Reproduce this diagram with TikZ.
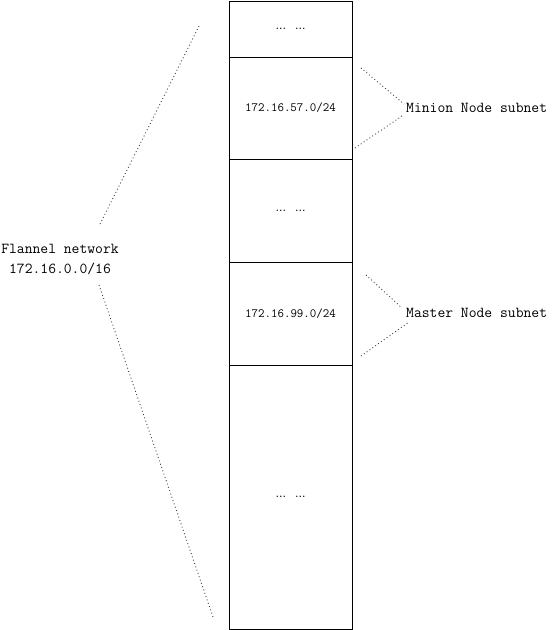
\documentclass[tikz,border=0pt]{standalone}
\usepackage{fontspec}
\newfontfamily\dvsans{DejaVu Sans}
\newcommand{\ellgap}{{\dvsans\fontsize{10.5}{11}\selectfont …\hspace{9pt}…}}
\begin{document}
\begin{tikzpicture}[x=1pt,y=-1pt,
  seg/.style={draw=black,line width=0.9pt,minimum width=123pt,inner sep=0pt,font=\ttfamily\fontsize{12.6}{14}\selectfont},
  lbl/.style={inner sep=0pt,font=\ttfamily\fontsize{15.2}{20}\selectfont},
  dotline/.style={draw=black!75,line width=0.9pt,dash pattern=on 0.9pt off 2.6pt}]
\useasboundingbox (0,0) rectangle (553,630);
\fill[white] (0,0) rectangle (553,630);
\node[seg,minimum height=56pt]  (b1) at (290.5,29)    {\ellgap};
\node[seg,minimum height=102pt] (b2) at (290.5,108)   {172.16.57.0/24};
\node[seg,minimum height=103pt] (b3) at (290.5,210.5) {\ellgap};
\node[seg,minimum height=103pt] (b4) at (290.5,313.5) {172.16.99.0/24};
\node[seg,minimum height=264pt] (b5) at (290.5,497)   {\ellgap};
\node[lbl,anchor=west] (minion) at (406,108) {Minion Node subnet};
\node[lbl,anchor=west] (master) at (406,313) {Master Node subnet};
\node[lbl,align=center] (flannel) at (60,259) {Flannel network\\172.16.0.0/16};
\coordinate (m1) at (361,68);
\coordinate (m2) at (355,148);
\coordinate (s1) at (366,275);
\coordinate (s2) at (361,356);
\coordinate (f1) at (199,26);
\coordinate (f2) at (213,617);
\draw[dotline] (m1) -- ([shift={(-2,-4)}]minion.west);
\draw[dotline] (m2) -- ([shift={(-4,8)}]minion.west);
\draw[dotline] (s1) -- ([shift={(-4,-5)}]master.west);
\draw[dotline] (s2) -- ([shift={(3,9)}]master.west);
\draw[dotline] (f1) -- (99,226);
\draw[dotline] (99,285) -- (f2);
\end{tikzpicture}
\end{document}
